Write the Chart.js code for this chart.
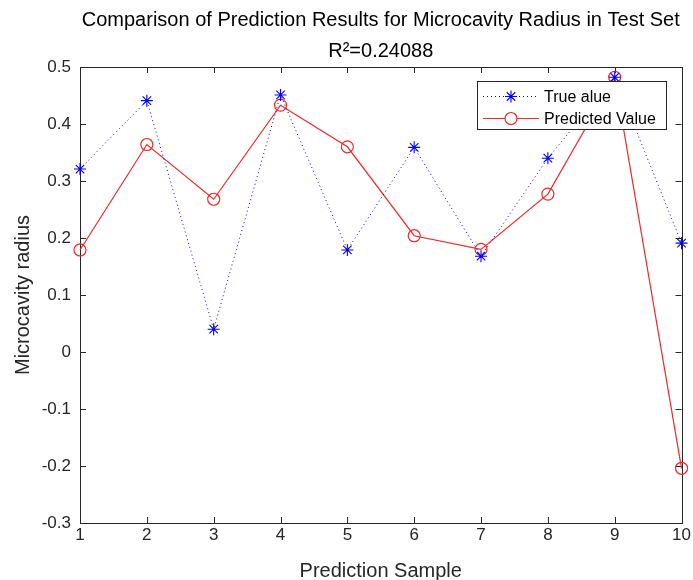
<!DOCTYPE html>
<html>
<head>
<meta charset="utf-8">
<script src="https://cdn.jsdelivr.net/npm/chart.js@4.4.0/dist/chart.umd.min.js"></script>
<style>
html,body{margin:0;padding:0;background:#fff;}
#wrap{width:693px;height:580px;}
</style>
</head>
<body>
<div id="wrap"><canvas id="c" width="693" height="580"></canvas></div>
<script>
const samples = [1, 2, 3, 4, 5, 6, 7, 8, 9, 10];
const trueValues = [0.321, 0.441, 0.040, 0.451, 0.179, 0.359, 0.168, 0.340, 0.482, 0.191];
const predictedValues = [0.179, 0.364, 0.268, 0.433, 0.360, 0.204, 0.180, 0.277, 0.482, -0.204];
const xTicks = [1, 2, 3, 4, 5, 6, 7, 8, 9, 10];
const yTicks = [-0.3, -0.2, -0.1, 0, 0.1, 0.2, 0.3, 0.4, 0.5];
const yTickLabels = ['-0.3', '-0.2', '-0.1', '0', '0.1', '0.2', '0.3', '0.4', '0.5'];
const seriesNames = ['True alue', 'Predicted Value'];
const titleLines = ['Comparison of Prediction Results for Microcavity Radius in Test Set', 'R\u00B2=0.24088'];
const xTitle = 'Prediction Sample';
const yTitle = 'Microcavity radius';

const AX = '#262626';
const FONT = "'Liberation Sans', Arial, Helvetica, sans-serif";

const framePlugin = {
  id: 'frame',
  beforeDatasetsDraw(chart) {
    const {ctx, chartArea: a, scales: {x, y}} = chart;
    ctx.save();
    ctx.strokeStyle = AX;
    ctx.lineWidth = 1;
    const L = 6;
    ctx.beginPath();
    xTicks.forEach(v => {
      const px = Math.round(x.getPixelForValue(v)) + 0.5;
      ctx.moveTo(px, a.bottom); ctx.lineTo(px, a.bottom - L);
      ctx.moveTo(px, a.top); ctx.lineTo(px, a.top + L);
    });
    yTicks.forEach(v => {
      const py = Math.round(y.getPixelForValue(v)) + 0.5;
      ctx.moveTo(a.left, py); ctx.lineTo(a.left + L, py);
      ctx.moveTo(a.right, py); ctx.lineTo(a.right - L, py);
    });
    ctx.stroke();
    ctx.strokeRect(Math.round(a.left) + 0.5, Math.round(a.top) + 0.5, Math.round(a.right - a.left), Math.round(a.bottom - a.top));
    ctx.restore();
  }
};

const legendPlugin = {
  id: 'boxLegend',
  afterDatasetsDraw(chart) {
    const {ctx} = chart;
    const bx = 477.5, by = 81.5, bw = 189, bh = 48;
    ctx.save();
    ctx.fillStyle = '#fff';
    ctx.fillRect(bx, by, bw, bh);
    ctx.strokeStyle = AX;
    ctx.lineWidth = 1;
    ctx.strokeRect(bx, by, bw, bh);
    const rows = [96, 118];
    chart.data.datasets.forEach((ds, i) => {
      const cy = rows[i] + 0.5;
      ctx.save();
      ctx.strokeStyle = ds.borderColor;
      ctx.lineWidth = ds.borderWidth;
      ctx.setLineDash(ds.borderDash || []);
      ctx.beginPath();
      ctx.moveTo(483, cy); ctx.lineTo(539, cy);
      ctx.stroke();
      ctx.restore();
      ctx.save();
      ctx.strokeStyle = ds.pointBorderColor;
      ctx.fillStyle = '#fff';
      ctx.lineWidth = ds.pointBorderWidth;
      ctx.setLineDash([]);
      Chart.helpers.drawPoint(ctx, {
        pointStyle: ds.pointStyle, radius: ds.pointRadius, rotation: 0,
        borderWidth: ds.pointBorderWidth
      }, 511, cy);
      ctx.restore();
      ctx.fillStyle = '#000';
      ctx.font = '16px ' + FONT;
      ctx.textBaseline = 'middle';
      ctx.textAlign = 'left';
      ctx.fillText(ds.label, 544, cy + 1);
    });
    ctx.restore();
  }
};

new Chart(document.getElementById('c'), {
  type: 'line',
  data: {
    datasets: [
      {
        label: seriesNames[0],
        data: samples.map((s, i) => ({x: s, y: trueValues[i]})),
        borderColor: 'rgb(0,0,255)',
        backgroundColor: 'rgba(0,0,0,0)',
        borderWidth: 1,
        borderDash: [1, 3],
        pointStyle: 'star',
        pointRadius: 6,
        pointBorderWidth: 1.1,
        pointBorderColor: 'rgb(0,0,255)',
        pointBackgroundColor: 'rgba(0,0,0,0)',
        tension: 0,
        clip: false
      },
      {
        label: seriesNames[1],
        data: samples.map((s, i) => ({x: s, y: predictedValues[i]})),
        borderColor: 'rgb(240,40,40)',
        backgroundColor: 'rgba(0,0,0,0)',
        borderWidth: 1.2,
        pointStyle: 'circle',
        pointRadius: 6,
        pointBorderWidth: 1.2,
        pointBorderColor: 'rgb(240,40,40)',
        pointBackgroundColor: 'rgba(0,0,0,0)',
        tension: 0,
        clip: false
      }
    ]
  },
  options: {
    responsive: false,
    animation: false,
    devicePixelRatio: 1,
    layout: {padding: {left: 0, right: 11, top: 0, bottom: 0}},
    plugins: {
      legend: {display: false},
      tooltip: {enabled: false},
      title: {
        display: true,
        fullSize: false,
        text: titleLines,
        color: '#000',
        font: {family: FONT, size: 20, weight: 'normal', lineHeight: 31 / 20},
        padding: {top: 5, bottom: 0}
      }
    },
    scales: {
      x: {
        type: 'linear',
        min: 1, max: 10,
        afterFit(s) { s.height = 57; },
        afterBuildTicks(s) { s.ticks = xTicks.map(v => ({value: v})); },
        grid: {display: false, drawTicks: false},
        border: {display: false},
        ticks: {
          color: AX, padding: 2, maxRotation: 0, autoSkip: false,
          font: {family: FONT, size: 17},
          callback: (v) => String(v)
        },
        title: {
          display: true, text: xTitle, color: AX,
          font: {family: FONT, size: 20, lineHeight: 1},
          padding: {top: 0, bottom: -1}
        }
      },
      y: {
        type: 'linear',
        min: -0.3, max: 0.5,
        afterFit(s) { s.width = 80; },
        afterBuildTicks(s) { s.ticks = yTicks.map(v => ({value: v})); },
        grid: {display: false, drawTicks: false},
        border: {display: false},
        ticks: {
          color: AX, padding: 9, autoSkip: false,
          font: {family: FONT, size: 17},
          callback: (v) => { const i = yTicks.findIndex(t => Math.abs(t - v) < 1e-9); return i >= 0 ? yTickLabels[i] : ''; }
        },
        title: {
          display: true, text: yTitle, color: AX,
          font: {family: FONT, size: 20, lineHeight: 1},
          padding: {top: 13.5, bottom: 13.5}
        }
      }
    }
  },
  plugins: [framePlugin, legendPlugin]
});
</script>
</body>
</html>
